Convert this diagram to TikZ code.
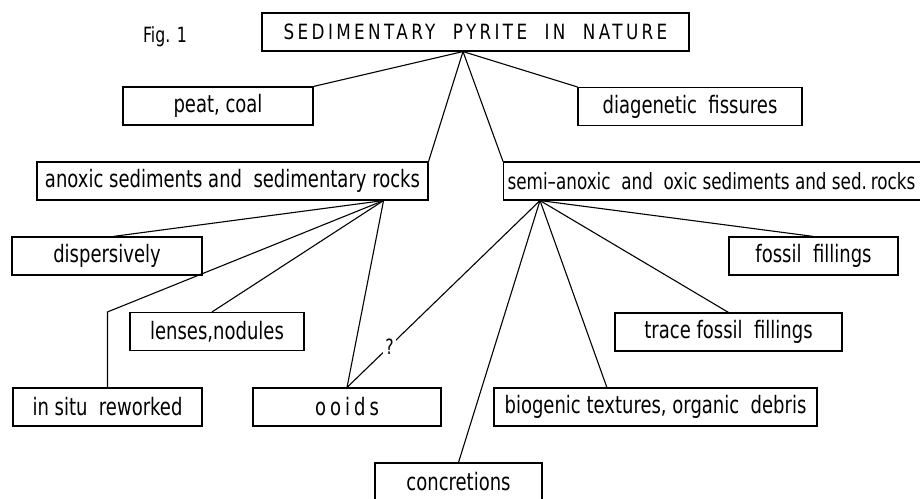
\documentclass[tikz,border=0pt]{standalone}
\usepackage{fontspec}
\setmainfont{DejaVu Sans}[FakeStretch=0.75]
\newfontfamily\titlefont{DejaVu Sans}[FakeStretch=0.8,LetterSpace=16]
\usetikzlibrary{calc}

\begin{document}
\begin{tikzpicture}[x=1pt,y=-1pt,line width=1.1pt,
  box/.style={draw,minimum height=38pt,inner sep=2pt,
    font=\fontsize{24}{28}\selectfont},
  hubline/.style={line join=round}]
\useasboundingbox (0,0) rectangle (920,498);

\node[font=\fontsize{21}{24}\selectfont] (fig) at (165,37) {Fig. 1};
\node[box,minimum width=427pt,font=\titlefont\fontsize{21}{24}\selectfont] (root) at (475.5,32) {SEDIMENTARY\ \ PYRITE\ \ IN\ \ NATURE};

\node[box,minimum width=190pt] (peat) at (218,106) {peat, coal};
\node[box,minimum width=224pt] (fissures) at (690,106.5) {diagenetic\ \ fissures};
\node[box,minimum width=391pt] (anoxic) at (232.5,181) {anoxic sediments and\ \ sedimentary rocks};
\node[box,anchor=west,minimum width=420pt,inner xsep=4pt,font=\fontsize{22.4}{26}\selectfont] (semi) at (503,181) {\makebox[412pt][l]{semi–anoxic\ \ and\ \ oxic sediments and sed.\,rocks}};

\node[box,minimum width=190pt] (dispersive) at (107,256) {dispersively};
\node[box,minimum width=169pt] (fossil) at (813.5,256) {fossil\ \ fillings};
\node[box,minimum width=174pt] (lenses) at (217,331.5) {lenses,nodules};
\node[box,minimum width=227pt] (trace) at (728.5,332) {trace fossil\ \ fillings};
\node[box,minimum width=189pt] (insitu) at (107.5,407) {in situ\ \ reworked};
\node[box,minimum width=188pt] (ooids) at (347,407) {o\,o\,i\,d\,s};
\node[box,minimum width=323pt] (biogenic) at (655.5,407) {biogenic textures, organic\ \ debris};
\node[box,minimum width=167pt] (concretions) at (458.5,482) {concretions};

\coordinate (rhub) at ($(root.south)+(-12.5,0)$);
\coordinate (ahub) at ($(anoxic.south east)+(-45,0)$);
\coordinate (shub) at ($(semi.south west)+(37,0)$);

\draw (rhub) -- (peat.north east);
\draw (rhub) -- (fissures.north west);
\draw (rhub) -- (anoxic.north east);
\draw (rhub) -- (semi.north west);

\draw (ahub) -- ($(dispersive.north)+(6,0)$);
\draw[hubline] (ahub) -- (insitu.north |- lenses.north) -- (insitu.north);
\draw (ahub) -- ($(lenses.north)+(-5,0)$);
\draw (ahub) -- (ooids.north);

\draw (ooids.north) -- node[pos=0.22,fill=white,inner sep=2pt,font=\fontsize{21}{24}\selectfont] (q) {?} (shub);
\draw (shub) -- (concretions.north);
\draw (shub) -- ($(biogenic.north west)!0.35!(biogenic.north east)$);
\draw (shub) -- (trace.north);
\draw (shub) -- (fossil.north);
\end{tikzpicture}
\end{document}
